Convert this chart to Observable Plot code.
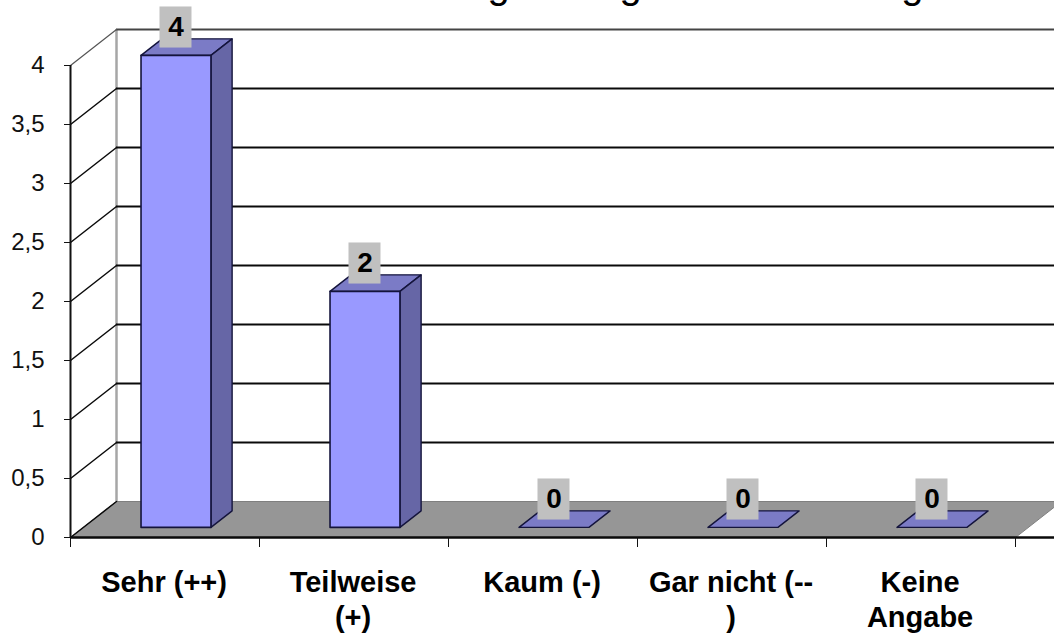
<!DOCTYPE html>
<html><head><meta charset="utf-8">
<script src="https://cdn.jsdelivr.net/npm/d3@7"></script>
<script src="https://cdn.jsdelivr.net/npm/@observablehq/plot@0.6"></script>
<style>html,body{margin:0;padding:0;background:#fff}svg{display:block}</style>
</head><body><div id="chart"></div>
<script>
const categories = ["Sehr (++)", "Teilweise\n(+)", "Kaum (-)", "Gar nicht (--\n)", "Keine\nAngabe"];
const values = [4, 2, 0, 0, 0];
const yTicks = [0, 0.5, 1, 1.5, 2, 2.5, 3, 3.5, 4];
const titleTails = ["g", "g", "g"];
const titleTailSlots = [2.265, 2.963, 4.455];

const font = "Liberation Sans, Arial, sans-serif";
const n = categories.length;
// oblique projection: depth 0 = front edge, depth 1 = back wall
const depthX = 46 / 189, depthY = 36 / 118;
const px = (cat, val, d) => ({x: cat + d * depthX, y: val + d * depthY});
const barHalf = 0.185, dFront = 0.28, dBack = 0.74, barCenter = 0.49;

const poly = (face, pts) => [...pts, pts[0]].map(p => ({face, ...p}));
const fronts = [], tops = [], sides = [];
values.forEach((v, i) => {
  const a = i + barCenter - barHalf, b = i + barCenter + barHalf;
  if (v > 0) {
    fronts.push(...poly(i, [px(a, 0, dFront), px(b, 0, dFront), px(b, v, dFront), px(a, v, dFront)]));
    sides.push(...poly(i, [px(b, 0, dFront), px(b, 0, dBack), px(b, v, dBack), px(b, v, dFront)]));
  }
  tops.push(...poly(i, [px(a, v, dFront), px(b, v, dFront), px(b, v, dBack), px(a, v, dBack)]));
});
const floor = poly("f", [px(0, 0, 0), px(n, 0, 0), px(n, 0, 1), px(0, 0, 1)]);
const wallTop = yTicks[yTicks.length - 1];
const diagonals = yTicks.flatMap(v => [{v, ...px(0, v, 0)}, {v, ...px(0, v, 1)}]);
const backLines = yTicks.filter(v => v > 0).map(v => ({v, y: v + depthY, x1: depthX, x2: n + depthX}));
const boxes = values.map((v, i) => ({
  label: String(v),
  cx: i + barCenter + dFront * depthX,
  x1: i + barCenter + dFront * depthX - 16 / 189,
  x2: i + barCenter + dFront * depthX + 16 / 189,
  y1: v + 0.148, y2: v + 0.496, cy: v + 0.322
}));
const xLabels = categories.map((c, i) => ({c, x: i + 0.495}));
const tails = titleTails.map((t, i) => ({t, x: titleTailSlots[i]}));
const isTop = d => d.v === wallTop;

const plot = Plot.plot({
  width: 1054, height: 633,
  marginLeft: 70, marginRight: 0, marginTop: 0, marginBottom: 96,
  style: {background: "#fff", fontFamily: font, overflow: "hidden"},
  x: {domain: [0, 984 / 189], axis: null},
  y: {domain: [0, 537 / 118], axis: null},
  marks: [
    Plot.line(floor, {x: "x", y: "y", z: "face", fill: "#969696", stroke: "#7f7f7f", strokeWidth: 1}),
    Plot.ruleX([depthX], {y1: depthY, y2: wallTop + depthY, stroke: "#a6a6a6", strokeWidth: 2.5}),
    Plot.ruleY(backLines.filter(d => !isTop(d)), {y: "y", x1: "x1", x2: "x2", stroke: "#0a0a0a", strokeWidth: 2}),
    Plot.ruleY(backLines.filter(isTop), {y: "y", x1: "x1", x2: "x2", stroke: "#444", strokeWidth: 2.2}),
    Plot.line(diagonals.filter(d => !isTop(d)), {x: "x", y: "y", z: "v", stroke: "#0a0a0a", strokeWidth: 1.5}),
    Plot.line(diagonals.filter(isTop), {x: "x", y: "y", z: "v", stroke: "#555", strokeWidth: 1.2}),
    Plot.ruleY([0], {stroke: "#0a0a0a", strokeWidth: 2.4}),
    Plot.ruleX([0], {y1: 0, y2: wallTop, stroke: "#111", strokeWidth: 2}),
    Plot.line(tops, {x: "x", y: "y", z: "face", fill: "#7b7bc6", stroke: "#14143c", strokeWidth: 1.4}),
    Plot.line(sides, {x: "x", y: "y", z: "face", fill: "#6666a6", stroke: "#14143c", strokeWidth: 1.4}),
    Plot.line(fronts, {x: "x", y: "y", z: "face", fill: "#9999ff", stroke: "#14143c", strokeWidth: 1.6}),
    Plot.rect(boxes, {x1: "x1", x2: "x2", y1: "y1", y2: "y2", fill: "#c0c0c0"}),
    Plot.text(boxes, {x: "cx", y: "cy", text: "label", fontSize: 28, fontWeight: "bold", fill: "#000", fontFamily: font}),
    Plot.axisY({ticks: yTicks, tickFormat: d => String(d).replace(".", ","), tickSize: 6, tickPadding: 20, fontSize: 24, stroke: "#111", color: "#111", label: null, marginLeft: 70, fontFamily: font}),
    Plot.axisX({ticks: d3.range(n + 1), tickFormat: () => "", tickSize: 10, stroke: "#111", label: null}),
    Plot.text(xLabels, {x: "x", y: 0, text: "c", dy: 30, lineAnchor: "top", lineHeight: 1.2, fontSize: 29, fontWeight: "bold", fill: "#000", fontFamily: font}),
    Plot.text(tails, {x: "x", frameAnchor: "top", dy: -2.4, lineAnchor: "bottom", text: "t", fontSize: 40, fill: "#000", fontFamily: font})
  ]
});
document.getElementById("chart").append(plot);
</script></body></html>
